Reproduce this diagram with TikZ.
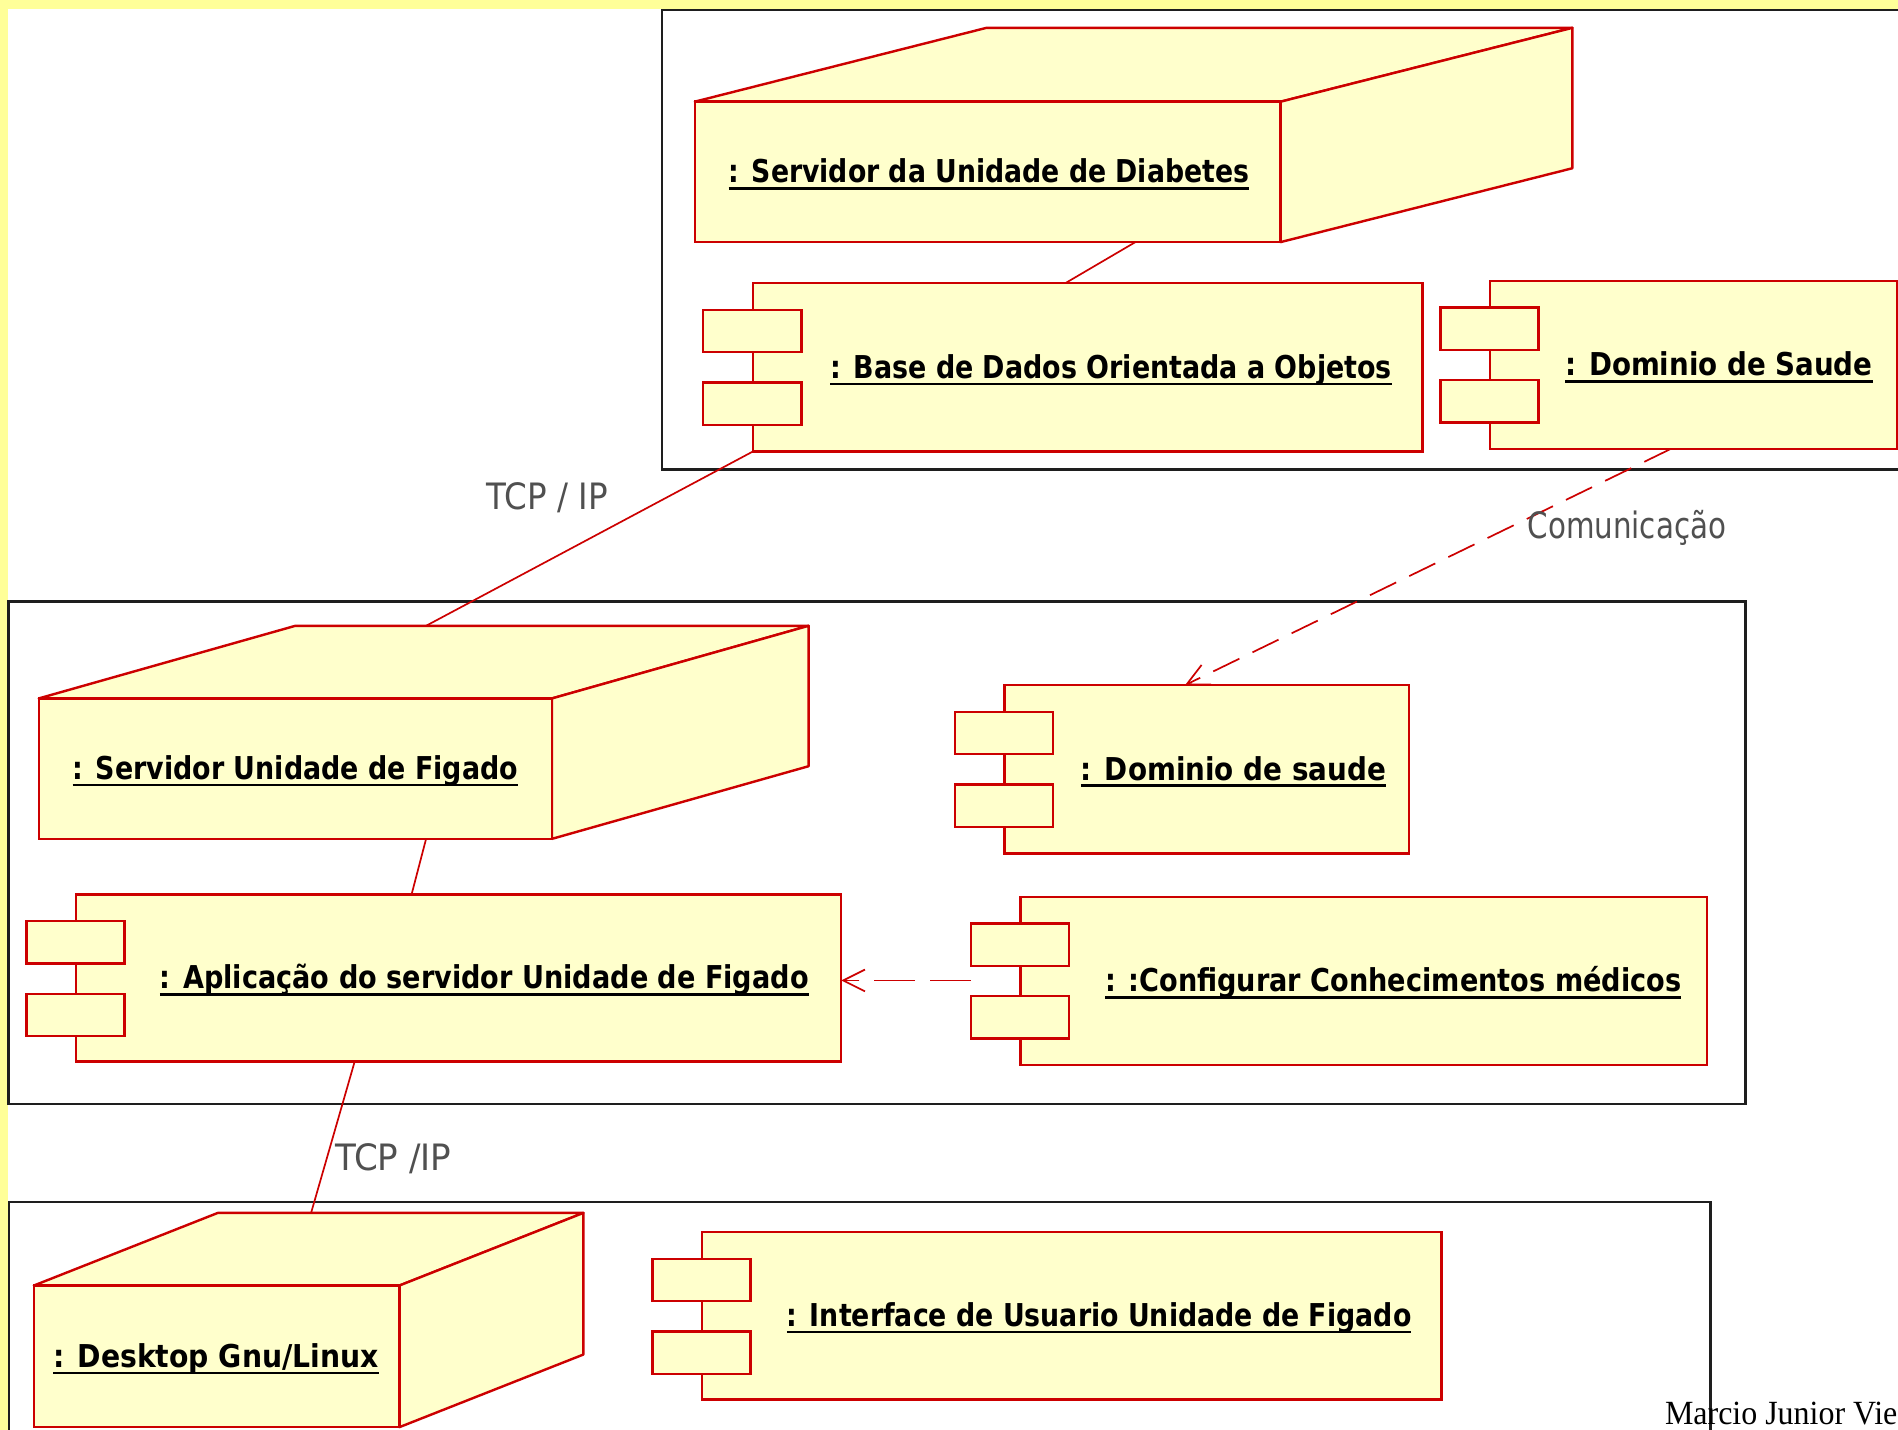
\documentclass[tikz,border=0pt]{standalone}
\usepackage{fontspec}
\usepackage{graphicx}
\usetikzlibrary{fit,arrows.meta,calc}
\newfontfamily\lblfont{DejaVu Sans}
\newfontfamily\notefont{Liberation Serif}
\definecolor{frameyellow}{RGB}{255,255,153}
\definecolor{boxfill}{RGB}{255,255,204}
\definecolor{umlred}{RGB}{204,0,0}
\definecolor{labelgray}{RGB}{80,80,80}
\definecolor{contline}{RGB}{30,30,30}
\newcommand\fitw[2]{\resizebox{#1}{\height}{#2}}
\tikzset{
  container/.style={draw=contline, line width=1pt, inner sep=0pt, outer sep=0pt},
  boxshape/.style={draw=umlred, fill=boxfill, line width=1pt, inner sep=0pt, outer sep=0pt},
  facepath/.style={draw=umlred, fill=boxfill, line width=1pt, line join=round},
  nametext/.style={inner sep=0pt, outer sep=0pt, anchor=base, text=black,
    font=\lblfont\bfseries\fontsize{13}{15}\selectfont},
  ulline/.style={line width=1pt, black},
  conn/.style={draw=umlred, line width=0.7pt},
  depline/.style={conn, dash pattern=on 12pt off 6pt, -{Straight Barb[length=9pt,width=9pt]}},
  edgelbl/.style={inner sep=0pt, outer sep=0pt, anchor=base, text=labelgray,
    font=\lblfont\fontsize{15}{18}\selectfont},
}
% device node: name, x1, y1, x2, y2, depth dx, depth dy (up)
\newcommand\devnode[7]{%
  \draw[facepath] (#2,#3) -- (#2+#6,#3-#7) -- (#4+#6,#3-#7) -- (#4,#3) -- cycle;
  \draw[facepath] (#4,#3) -- (#4+#6,#3-#7) -- (#4+#6,#5-#7) -- (#4,#5) -- cycle;
  \node[boxshape, fit={(#2,#3) (#4,#5)}] (#1) {};
}
% component: name, x1, y1, x2, y2
\newcommand\compnode[5]{%
  \node[boxshape, fit={(#2,#3) (#4,#5)}] (#1) {};
  \node[boxshape, fit={(#2-41,#3+22) (#2+40,#3+57)}] (#1-p1) {};
  \node[boxshape, fit={(#2-41,#3+82) (#2+40,#3+117)}] (#1-p2) {};
}
% underlined name: name, x, baseline y, width, text
\newcommand\umllabel[5]{%
  \node[nametext] (#1) at (#2,#3) {\fitw{#4}{#5}};
  \draw[ulline] ([yshift=-2.3pt]#1.base west) -- ([yshift=-2.3pt]#1.base east);
}
\begin{document}
\begin{tikzpicture}[x=0.5pt, y=-0.5pt]
\useasboundingbox (0,0) rectangle (1568,1181);
\fill[frameyellow] (0,0) rectangle (1568,1181);
\fill[white] (6.5,7.5) rectangle (1580,1190);

% containers
\node[container, fit={(547,8.5) (1590,388)}] (topc) {};
\node[container, fit={(7,497) (1442,912)}] (midc) {};
\node[container, fit={(7.5,993) (1413,1200)}] (botc) {};

% top container
\devnode{diab}{574}{84}{1058}{200}{241}{61}
\umllabel{diabL}{817}{151}{215pt}{: Servidor da Unidade de Diabetes}
\compnode{base}{622}{234}{1175}{373}
\umllabel{baseL}{918}{312.5}{232pt}{: Base de Dados Orientada a Objetos}
\compnode{saude}{1231}{232}{1567}{371}
\umllabel{saudeL}{1420}{310.5}{127pt}{: Dominio de Saude}

% middle container
\devnode{figs}{32}{577}{456}{693}{212}{60}
\umllabel{figsL}{244}{644}{184pt}{: Servidor Unidade de Figado}
\compnode{apl}{63}{739}{695}{877}
\umllabel{aplL}{400}{817}{268pt}{: Aplicação do servidor Unidade de Figado}
\compnode{dom}{830}{566}{1164}{705}
\umllabel{domL}{1019}{644.5}{126pt}{: Dominio de saude}
\compnode{conf}{843}{741}{1410}{880}
\umllabel{confL}{1151}{819.5}{238pt}{: :Configurar Conhecimentos médicos}

% bottom container
\devnode{desk}{28}{1062}{330}{1179}{152}{60}
\umllabel{deskL}{178.5}{1129.5}{134.5pt}{: Desktop Gnu/Linux}
\compnode{intf}{580}{1018}{1191}{1156}
\umllabel{intfL}{908}{1096}{258pt}{: Interface de Usuario Unidade de Figado}

% connection points
\coordinate (diabB) at (938,200);
\coordinate (baseT) at (880,234);
\coordinate (figsTop) at (352,517);
\coordinate (figsB) at (352,693);
\coordinate (aplT) at (340,739);
\coordinate (aplB) at (293,877);
\coordinate (deskTop) at (257,1002);
\coordinate (saudeB) at (1380,371);
\coordinate (domT) at (979,566);
\coordinate (confL0) at (802,810);
\coordinate (aplR) at (695,810);

% connectors
\draw[conn] (diabB) -- (baseT);
\draw[conn] (base.south west) -- (figsTop);
\draw[conn] (figsB) -- (aplT);
\draw[conn] (aplB) -- (deskTop);
\draw[depline] (saudeB) -- (domT);
\draw[depline, dash pattern=on 17pt off 6pt] (confL0) -- (aplR);

% connector labels
\node[edgelbl] (tcp1) at (452,421) {\fitw{50pt}{TCP / IP}};
\node[edgelbl] (com) at (1344,445) {\fitw{82pt}{Comunicação}};
\node[edgelbl] (tcp2) at (325,967) {\fitw{48pt}{TCP /IP}};

% author note
\node[inner sep=0pt, outer sep=0pt, anchor=base, text=black,
  font=\notefont\fontsize{14}{16}\selectfont] (author) at (1471.5,1177) {\fitw{96pt}{Marcio Junior Vie}};
\end{tikzpicture}
\end{document}
